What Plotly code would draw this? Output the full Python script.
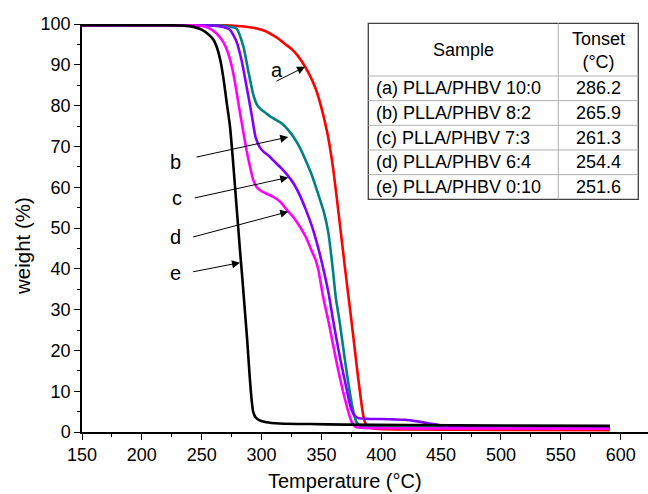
import plotly.graph_objects as go

# ---------------- data ----------------
temp_a = [150, 220, 268, 280, 290, 296, 303, 309.8, 315, 320, 325, 330, 335, 340, 345, 350, 355, 360, 365, 370,
          375, 380, 383, 385, 387, 390, 395, 420, 500, 591]
wt_a = [99.7, 99.7, 99.7, 99.5, 99.2, 98.9, 98.3, 97.2, 96.2, 95.0, 93.9, 92.3, 90.2, 87.6, 84.3, 79.5, 73.2, 64.2,
        52, 39.5, 27.5, 15, 8, 4, 2, 1.2, 0.8, 0.6, 0.5, 0.45]

temp_b = [150, 255, 265, 272, 279, 284.8, 288.9, 293, 296, 299, 303, 307, 312, 317, 322, 327, 332, 337, 342, 347, 352,
          356, 359.5, 362, 365.5, 369, 372.5, 376, 379, 382, 390, 450, 591]
wt_b = [99.7, 99.7, 99.6, 99.4, 98.9, 94.5, 88.5, 82.8, 80.3, 79.2, 78.3, 77.4, 76.5, 75.6, 74.1, 72.2, 69.7, 66.5, 63,
        58.6, 54, 48.5, 40, 33, 26.5, 19, 12, 6, 2.6, 1.6, 1.35, 1.25, 1.2]

temp_c = [150, 250, 260, 267, 273.6, 279, 283.4, 287.6, 291.8, 295, 298.7, 302, 306, 310, 316, 321, 327, 332, 337, 342,
          347, 352, 356, 360, 365, 370, 374, 377, 381, 390, 400, 410, 420, 430, 440, 450, 460, 480, 520, 591]
wt_c = [99.7, 99.7, 99.6, 99.3, 98.6, 95.8, 91, 84.5, 77.7, 72.3, 69.7, 68.6, 67.7, 66.5, 64.8, 63.2, 60.8, 58, 54.5,
        50.5, 45.5, 39.5, 34, 27, 19, 12, 6.5, 4.3, 3.4, 3.2, 3.2, 3.1, 3.0, 2.6, 2.1, 1.6, 1.3, 1.1, 1.0, 0.95]

temp_d = [150, 240, 250, 256, 262, 268, 273, 277, 281, 284.5, 287.5, 290, 293, 296, 300, 305, 310, 316, 321, 327, 332,
          337, 341, 345, 347.5, 351.5, 356, 360, 364, 368, 371.5, 374, 376, 379, 385, 420, 500, 591]
wt_d = [99.7, 99.7, 99.5, 99, 97.8, 95.6, 92, 87, 80, 74, 69, 65.5, 61.8, 60, 59, 58.3, 57.6, 56.3, 54.5, 52.5, 50.3,
        47.8, 45, 42.3, 39.7, 33, 27, 21, 15.2, 10, 6, 3.5, 2, 1.2, 1.0, 0.9, 0.85, 0.8]

temp_e = [150, 220, 235, 243, 250, 255, 259.7, 263, 266, 268.5, 271, 273.6, 276, 278, 280, 282, 284, 286, 288, 290,
          291.5, 293, 295, 298, 304, 315, 340, 370, 420, 500, 591]
wt_e = [99.7, 99.7, 99.6, 99.3, 98.6, 97.6, 96.2, 94, 90.5, 86, 80.5, 75, 67, 59.5, 52, 44.5, 37.5, 30, 22.5, 14,
        8.5, 5, 3.6, 2.9, 2.4, 2.1, 1.95, 1.8, 1.7, 1.6, 1.5]

sample_labels = ["(a) PLLA/PHBV 10:0", "(b) PLLA/PHBV 8:2", "(c) PLLA/PHBV 7:3",
                 "(d) PLLA/PHBV 6:4", "(e) PLLA/PHBV 0:10"]
tonset_values = ["286.2", "265.9", "261.3", "254.4", "251.6"]
curve_letters = ["a", "b", "c", "d", "e"]

x_ticks = [150, 200, 250, 300, 350, 400, 450, 500, 550, 600]
y_ticks = [0, 10, 20, 30, 40, 50, 60, 70, 80, 90, 100]

# ---------------- figure ----------------
FONT = "Arial, Liberation Sans, sans-serif"
series = [
    (temp_a, wt_a, "#FF0000"),
    (temp_b, wt_b, "#008080"),
    (temp_c, wt_c, "#8000FF"),
    (temp_d, wt_d, "#FF00FF"),
    (temp_e, wt_e, "#000000"),
]

fig = go.Figure()
for (t, w, c), lab in zip(series, curve_letters):
    fig.add_trace(go.Scatter(x=t, y=w, mode="lines", name=lab,
                             line=dict(color=c, width=2.6, shape="spline", smoothing=0.5),
                             showlegend=False))

W, H = 648, 494
L, R, T, B = 82, 0, 24, 62

def px2paper(px, py):
    return (px - L) / (W - L - R), (H - B - py) / (H - T - B)

fig.update_layout(
    width=W, height=H,
    margin=dict(l=L, r=R, t=T, b=B, pad=0),
    paper_bgcolor="white", plot_bgcolor="white",
    font=dict(family=FONT, size=18, color="black"),
    xaxis=dict(range=[150, 150 + (W - L - R) / 1.197], tickvals=x_ticks, ticks="outside", ticklen=6,
               tickwidth=1.4, tickcolor="black", showline=True, linecolor="black", linewidth=1.5,
               showgrid=False, zeroline=False, tickfont=dict(size=18), automargin=False,
               minor=dict(dtick=25, tick0=150, ticks="outside", ticklen=3.5, tickwidth=1.4, tickcolor="black")),
    yaxis=dict(range=[0, 100], tickvals=y_ticks, ticks="outside", ticklen=6,
               tickwidth=1.4, tickcolor="black", showline=True, linecolor="black", linewidth=1.5,
               showgrid=False, zeroline=False, tickfont=dict(size=18), automargin=False,
               minor=dict(dtick=5, tick0=0, ticks="outside", ticklen=3.5, tickwidth=1.4, tickcolor="black")),
)

ann = []
# axis titles
ann.append(dict(xref="paper", yref="paper", x=px2paper(345, 0)[0], y=px2paper(0, 481)[1],
                text="Temperature (°C)", showarrow=False, font=dict(size=20), xanchor="center", yanchor="middle"))
ann.append(dict(xref="paper", yref="paper", x=px2paper(22, 0)[0], y=px2paper(0, 246)[1],
                text="weight (%)", showarrow=False, font=dict(size=20.5), textangle=-90,
                xanchor="center", yanchor="middle"))

# curve labels + arrows (tail/tip in data coordinates)
label_pos = [(312.7, 88.8), (227.7, 66.2), (229.1, 57.3), (227.7, 47.9), (227.7, 38.9)]
arrow_tail = [(311.2, 85.8), (244.4, 67.3), (243.0, 57.3), (241.6, 47.7), (241.6, 39.2)]
arrow_tip = [(336.3, 89.5), (322.3, 72.3), (322.3, 62.4), (322.3, 54.0), (282.0, 41.5)]
for lab, (lx, ly), (ax_, ay_), (tx, ty) in zip(curve_letters, label_pos, arrow_tail, arrow_tip):
    ann.append(dict(x=lx, y=ly, xref="x", yref="y", text=lab, showarrow=False,
                    font=dict(size=20), xanchor="center", yanchor="middle"))
    ann.append(dict(x=tx, y=ty, xref="x", yref="y", ax=ax_, ay=ay_, axref="x", ayref="y",
                    text="", showarrow=True, arrowhead=2, arrowsize=1.6, arrowwidth=1,
                    arrowcolor="black", standoff=0, startstandoff=0))

# table
tl, tc, tr = 368.3, 558.3, 638.3
ttop, thead, tbot = 23.3, 76.0, 199.3
row_h = (tbot - thead) / 5
shapes = []
x0p, _ = px2paper(tl, 0)
xcp, _ = px2paper(tc, 0)
x1p, _ = px2paper(tr, 0)
_, ytp = px2paper(0, ttop)
_, ybp = px2paper(0, tbot)
inner = dict(color="#b0b0b0", width=1)
shapes.append(dict(type="rect", xref="paper", yref="paper", x0=x0p, x1=x1p, y0=ybp, y1=ytp,
                   line=dict(color="#404040", width=1.3), fillcolor="white", layer="above"))
shapes.append(dict(type="line", xref="paper", yref="paper", x0=xcp, x1=xcp, y0=ybp, y1=ytp, line=inner))
for i in range(5):
    yy = px2paper(0, thead + i * row_h)[1]
    shapes.append(dict(type="line", xref="paper", yref="paper", x0=x0p, x1=x1p, y0=yy, y1=yy, line=inner))

ann.append(dict(xref="paper", yref="paper", x=px2paper((tl + tc) / 2, 0)[0], y=px2paper(0, 50)[1],
                text="Sample", showarrow=False, font=dict(size=18), xanchor="center", yanchor="middle"))
ann.append(dict(xref="paper", yref="paper", x=px2paper((tc + tr) / 2, 0)[0], y=px2paper(0, 50.5)[1],
                text="Tonset<br>(°C)", showarrow=False, font=dict(size=18), xanchor="center", yanchor="middle"))
for i, (s, v) in enumerate(zip(sample_labels, tonset_values)):
    cy = px2paper(0, thead + (i + 0.5) * row_h)[1]
    ann.append(dict(xref="paper", yref="paper", x=px2paper(tl + 6, 0)[0], y=cy, text=s, showarrow=False,
                    font=dict(size=18), xanchor="left", yanchor="middle"))
    ann.append(dict(xref="paper", yref="paper", x=px2paper((tc + tr) / 2, 0)[0], y=cy, text=v,
                    showarrow=False, font=dict(size=18), xanchor="center", yanchor="middle"))

fig.update_layout(annotations=ann, shapes=shapes)
fig.write_html("out.html", config={"displayModeBar": False},
               post_script="document.body.style.margin='0';document.body.style.overflow='hidden';")
